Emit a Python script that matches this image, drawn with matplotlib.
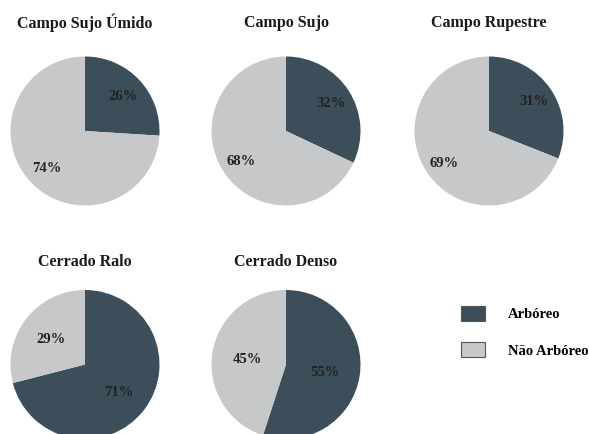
import matplotlib.pyplot as plt
from matplotlib.patches import Patch

# --- Data ---
titles = ['Campo Sujo Úmido', 'Campo Sujo', 'Campo Rupestre', 'Cerrado Ralo', 'Cerrado Denso']
arboreo = [26, 32, 31, 71, 55]
nao_arboreo = [74, 68, 69, 29, 45]
legend_labels = ['Arbóreo', 'Não Arbóreo']

# --- Style ---
plt.rcParams['font.family'] = ['Liberation Serif', 'DejaVu Serif']
plt.rcParams['font.weight'] = 'bold'
dark = '#3b4e5a'
light = '#c7c8ca'

W, H = 589, 434
fig = plt.figure(figsize=(W / 100, H / 100), dpi=100)

# pie centres in pixels (x, y from top) and label distances
centres = [(85, 131), (286, 131), (489, 131), (85, 364.5), (286, 364.5)]
pct_dist = [0.70, 0.72, 0.73, 0.57, 0.53]
r = 74.5

for i, title in enumerate(titles):
    cx, cy = centres[i]
    ax = fig.add_axes([(cx - r) / W, 1 - (cy + r) / H, 2 * r / W, 2 * r / H])
    wedges, texts, autotexts = ax.pie(
        [arboreo[i], nao_arboreo[i]], colors=[dark, light],
        startangle=90, counterclock=False, radius=1,
        autopct='%d%%', pctdistance=pct_dist[i],
        textprops={'fontsize': 10.5, 'fontweight': 'bold', 'color': '#222222'})
    for t in autotexts:
        t.set_va('center_baseline')
    ax.set_xlim(-1, 1)
    ax.set_ylim(-1, 1)
    ax.set_aspect('auto')
    # title above pie
    ty = 23 if cy < 200 else 262
    fig.text(cx / W, 1 - ty / H, title, ha='center', va='center',
             fontsize=11.5, fontweight='bold', color='#1a1a1a')

handles = [Patch(facecolor=dark, edgecolor='#555555', linewidth=0.8),
           Patch(facecolor=light, edgecolor='#555555', linewidth=0.8)]
fig.legend(handles, legend_labels, loc='upper left',
           bbox_to_anchor=(461 / W, 1 - 306 / H), frameon=False,
           prop={'size': 10.5, 'weight': 'bold'},
           handlelength=1.64, handleheight=1.16, handletextpad=1.6,
           labelspacing=1.45, borderpad=0, borderaxespad=0)

fig.savefig('out.png', dpi=100)
